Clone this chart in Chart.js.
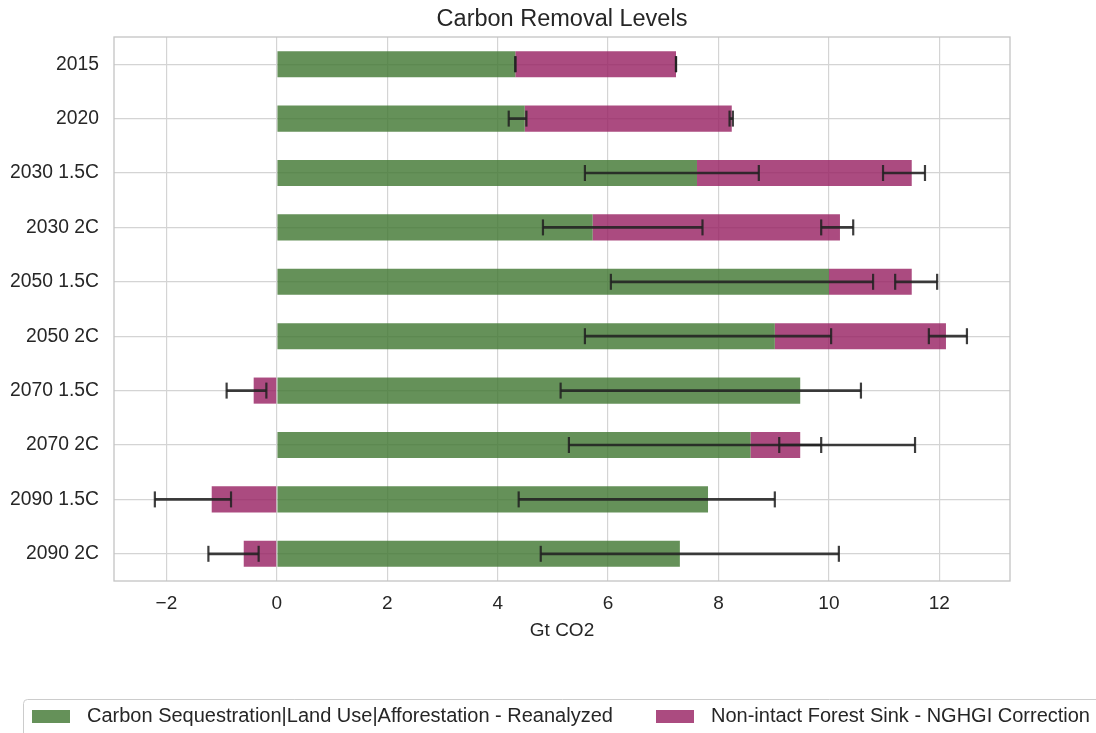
<!DOCTYPE html>
<html>
<head>
<meta charset="utf-8">
<script src="https://cdn.jsdelivr.net/npm/chart.js@4/dist/chart.umd.min.js"></script>
<style>
  html, body { margin: 0; padding: 0; background: #fff; }
  #wrap { width: 1096px; height: 733px; }
</style>
</head>
<body>
<div id="wrap"><canvas id="carbonChart" width="1096" height="733"></canvas></div>
<script>
// values (Gt CO2)
const categories = ['2015', '2020', '2030 1.5C', '2030 2C', '2050 1.5C', '2050 2C', '2070 1.5C', '2070 2C', '2090 1.5C', '2090 2C'];
const afforestation = [4.32, 4.49, 7.61, 5.72, 10.00, 9.02, 9.48, 8.58, 7.81, 7.30];
const forestSink = [2.91, 3.75, 3.89, 4.48, 1.50, 3.10, -0.42, 0.90, -1.18, -0.60];
// error bar extents (absolute positions on the x axis)
const afforestationLow = [4.32, 4.20, 5.58, 4.82, 6.05, 5.58, 5.14, 5.29, 4.38, 4.78];
const afforestationHigh = [4.32, 4.52, 8.73, 7.71, 10.80, 10.04, 10.58, 9.86, 9.02, 10.18];
const forestSinkLow = [7.23, 8.20, 10.98, 9.86, 11.20, 11.81, -0.91, 9.10, -2.21, -1.24];
const forestSinkHigh = [7.23, 8.26, 11.74, 10.44, 11.96, 12.50, -0.19, 11.56, -0.83, -0.33];
const xTicks = [-2, 0, 2, 4, 6, 8, 10, 12];

const seriesLabels = [
    'Carbon Sequestration|Land Use|Afforestation - Reanalyzed',
    'Non-intact Forest Sink - NGHGI Correction'
];
const greenColor = 'rgba(62, 117, 47, 0.8)';
const purpleColor = 'rgba(150, 30, 96, 0.8)';
const textColor = '#262626';
const fontFamily = "'Liberation Sans', Arial, sans-serif";

const errorRanges = [
    [afforestationLow, afforestationHigh],
    [forestSinkLow, forestSinkHigh]
];

// frame around the plot area (all four spines)
const frameSpines = {
    id: 'frameSpines',
    afterDatasetsDraw(chart) {
        const { ctx, chartArea: a } = chart;
        ctx.save();
        ctx.strokeStyle = '#c4c4c4';
        ctx.lineWidth = 1.3;
        ctx.strokeRect(a.left, a.top, a.right - a.left, a.bottom - a.top);
        ctx.restore();
    }
};

// asymmetric error bars drawn through the x scale
const errorBars = {
    id: 'errorBars',
    afterDatasetsDraw(chart) {
        const { ctx } = chart;
        const xScale = chart.scales.x;
        ctx.save();
        ctx.strokeStyle = 'rgba(34, 34, 34, 0.88)';
        errorRanges.forEach(([lows, highs], i) => {
            const meta = chart.getDatasetMeta(i);
            meta.data.forEach((bar, j) => {
                const y = bar.y;
                const x1 = xScale.getPixelForValue(lows[j]);
                const x2 = xScale.getPixelForValue(highs[j]);
                ctx.lineWidth = 2.7;
                ctx.beginPath();
                ctx.moveTo(x1, y);
                ctx.lineTo(x2, y);
                ctx.stroke();
                ctx.lineWidth = 2.2;
                [x1, x2].forEach(x => {
                    ctx.beginPath();
                    ctx.moveTo(x, y - 8);
                    ctx.lineTo(x, y + 8);
                    ctx.stroke();
                });
            });
        });
        ctx.restore();
    }
};

// boxed legend under the axis
const boxLegend = {
    id: 'boxLegend',
    afterDraw(chart) {
        const { ctx } = chart;
        ctx.save();
        ctx.strokeStyle = '#cccccc';
        ctx.lineWidth = 1;
        ctx.beginPath();
        ctx.roundRect(23.5, 699.5, 1100, 60, 4);
        ctx.stroke();

        const items = [
            { x: 32, color: greenColor, text: seriesLabels[0], textX: 87 },
            { x: 656, color: purpleColor, text: seriesLabels[1], textX: 711 }
        ];
        ctx.font = '20px ' + fontFamily;
        ctx.textBaseline = 'middle';
        items.forEach(item => {
            ctx.fillStyle = item.color;
            ctx.fillRect(item.x, 710, 38, 13);
            ctx.fillStyle = textColor;
            ctx.fillText(item.text, item.textX, 716.5);
        });
        ctx.restore();
    }
};

const ctx = document.getElementById('carbonChart').getContext('2d');
new Chart(ctx, {
    type: 'bar',
    data: {
        labels: categories,
        datasets: [
            {
                label: seriesLabels[0],
                data: afforestation,
                backgroundColor: greenColor,
                borderWidth: 0,
                barPercentage: 0.48,
                categoryPercentage: 1.0
            },
            {
                label: seriesLabels[1],
                data: forestSink,
                backgroundColor: purpleColor,
                borderWidth: 0,
                barPercentage: 0.48,
                categoryPercentage: 1.0
            }
        ]
    },
    options: {
        indexAxis: 'y',
        responsive: false,
        animation: false,
        layout: { padding: { left: 0, right: 86, top: 0, bottom: 82 } },
        plugins: {
            legend: { display: false },
            tooltip: { enabled: false },
            title: {
                display: true,
                text: 'Carbon Removal Levels',
                fullSize: false,
                color: textColor,
                font: { family: fontFamily, size: 23.5, weight: 'normal' },
                padding: { top: 5, bottom: 3.8 }
            }
        },
        scales: {
            x: {
                stacked: true,
                min: -2.95,
                max: 13.28,
                afterBuildTicks: scale => { scale.ticks = xTicks.map(v => ({ value: v })); },
                afterFit: scale => { scale.height = 70; },
                grid: { color: '#d4d4d4', lineWidth: 1.2, drawTicks: false },
                border: { display: false },
                ticks: {
                    color: textColor,
                    padding: 11,
                    font: { family: fontFamily, size: 19 },
                    callback: v => String(v).replace('-', '\u2212')
                },
                title: {
                    display: true,
                    text: 'Gt CO2',
                    color: textColor,
                    font: { family: fontFamily, size: 19 },
                    padding: { top: 0, bottom: 8.6 }
                }
            },
            y: {
                stacked: true,
                afterFit: scale => { scale.width = 114; },
                grid: { color: '#d4d4d4', lineWidth: 1.2, drawTicks: false, offset: false },
                border: { display: false },
                ticks: {
                    color: textColor,
                    padding: 15,
                    font: { family: fontFamily, size: 19.3 }
                }
            }
        }
    },
    plugins: [frameSpines, errorBars, boxLegend]
});
</script>
</body>
</html>
